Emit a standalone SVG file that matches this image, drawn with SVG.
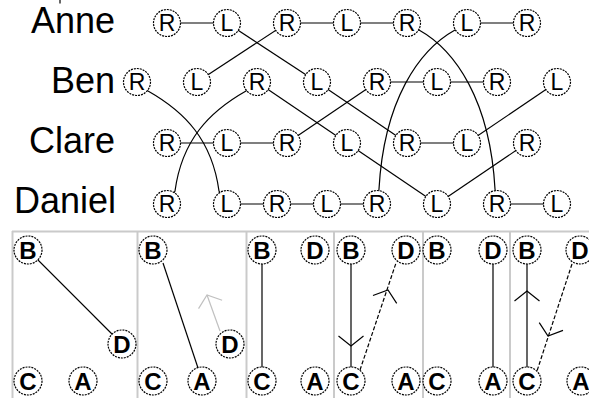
<svg xmlns="http://www.w3.org/2000/svg" xmlns:xlink="http://www.w3.org/1999/xlink" width="589" height="398" viewBox="0 0 589 398">
<style>
.n circle{fill:#fff;stroke:#000;stroke-width:1.2;stroke-dasharray:2 1}
.n text{font-family:"Liberation Sans",Arial,sans-serif;font-size:23px;text-anchor:middle;fill:#000}
.b text{font-weight:bold;font-size:24px}
.name{font-family:"Liberation Sans",Arial,sans-serif;font-size:36px;text-anchor:end;fill:#000}
.c{stroke:#000;stroke-width:1.2;fill:none}
.d{stroke-dasharray:4 2}
.g{stroke:#c0c0c0}
.frame{stroke:#cacaca;stroke-width:2;fill:none}
</style>
<defs>
<path id="chev" d="M -10,-12.5 L 0,0 L -10,12.5" fill="none"/>
</defs>
<line x1="60" y1="0" x2="60" y2="3.5" stroke="#000" stroke-width="1.2"/>
<g id="names">
<text class="name" x="115" y="33">Anne</text>
<text class="name" x="115" y="93">Ben</text>
<text class="name" x="115" y="153">Clare</text>
<text class="name" x="116" y="213">Daniel</text>
</g>
<g id="frame" class="frame">
<line x1="12" y1="231.5" x2="589" y2="231.5"/>
<line x1="12.5" y1="231" x2="12.5" y2="398"/>
<line x1="137.5" y1="231" x2="137.5" y2="398"/>
<line x1="246.5" y1="231" x2="246.5" y2="398"/>
<line x1="334" y1="231" x2="334" y2="398"/>
<line x1="423" y1="231" x2="423" y2="398"/>
<line x1="510" y1="231" x2="510" y2="398"/>
</g>
<g id="connectors">
<g id="top-connectors" class="c">
<line x1="167" y1="23" x2="227" y2="23"/>
<line x1="287" y1="23" x2="407" y2="23"/>
<line x1="467" y1="23" x2="527" y2="23"/>
<line x1="377" y1="82" x2="497" y2="82"/>
<line x1="167" y1="143" x2="287" y2="143"/>
<line x1="407" y1="143" x2="467" y2="143"/>
<line x1="227" y1="204" x2="377" y2="204"/>
<line x1="497" y1="204" x2="557" y2="204"/>
<line x1="227" y1="23" x2="317" y2="82"/>
<line x1="287" y1="23" x2="197" y2="82"/>
<line x1="257" y1="82" x2="347" y2="143"/>
<line x1="377" y1="82" x2="287" y2="143"/>
<line x1="317" y1="82" x2="407" y2="143"/>
<line x1="557" y1="82" x2="467" y2="143"/>
<line x1="347" y1="143" x2="437" y2="204"/>
<line x1="527" y1="143" x2="437" y2="204"/>
<path d="M 407,23 L 419,30 C 455,50 490,100 495,189 L 497,204"/>
<path d="M 467,23 L 455,30 C 419,50 384,100 379,189 L 377,204"/>
<path d="M 137,82 L 148,91 C 185,112 212,140 219,191 L 227,204"/>
<path d="M 257,82 L 246,91 C 209,112 182,140 175,191 L 167,204"/>
</g>
<g id="bottom-connectors" class="c">
<line x1="28" y1="250" x2="122" y2="344"/>
<line x1="163" y1="263" x2="198" y2="368"/>
<g class="g"><line x1="220" y1="331" x2="207" y2="295"/><use xlink:href="#chev" transform="translate(207,295) rotate(-109.4)"/></g>
<line x1="262" y1="250" x2="262" y2="381"/>
<line x1="351" y1="250" x2="351" y2="381"/>
<use xlink:href="#chev" transform="translate(351,346) rotate(90)"/>
<line class="d" x1="360" y1="370" x2="396" y2="263"/>
<use xlink:href="#chev" transform="translate(388,290) rotate(-71.6)"/>
<line x1="493" y1="250" x2="493" y2="381"/>
<line x1="527" y1="250" x2="527" y2="381"/>
<use xlink:href="#chev" transform="translate(527,291) rotate(-90)"/>
<line class="d" x1="572" y1="264" x2="537" y2="371"/>
<use xlink:href="#chev" transform="translate(548,336) rotate(108.2)"/>
</g>
</g>
<g id="anne">
<g id="a1" class="n"><circle cx="167" cy="23" r="13.5"/><text x="167" y="31.2">R</text></g>
<g id="a2" class="n"><circle cx="227" cy="23" r="13.5"/><text x="227" y="31.2">L</text></g>
<g id="a3" class="n"><circle cx="287" cy="23" r="13.5"/><text x="287" y="31.2">R</text></g>
<g id="a4" class="n"><circle cx="347" cy="23" r="13.5"/><text x="347" y="31.2">L</text></g>
<g id="a5" class="n"><circle cx="407" cy="23" r="13.5"/><text x="407" y="31.2">R</text></g>
<g id="a6" class="n"><circle cx="467" cy="23" r="13.5"/><text x="467" y="31.2">L</text></g>
<g id="a7" class="n"><circle cx="527" cy="23" r="13.5"/><text x="527" y="31.2">R</text></g>
</g>
<g id="ben">
<g id="b1" class="n"><circle cx="137" cy="82" r="13.5"/><text x="137" y="90.2">R</text></g>
<g id="b2" class="n"><circle cx="197" cy="82" r="13.5"/><text x="197" y="90.2">L</text></g>
<g id="b3" class="n"><circle cx="257" cy="82" r="13.5"/><text x="257" y="90.2">R</text></g>
<g id="b4" class="n"><circle cx="317" cy="82" r="13.5"/><text x="317" y="90.2">L</text></g>
<g id="b5" class="n"><circle cx="377" cy="82" r="13.5"/><text x="377" y="90.2">R</text></g>
<g id="b6" class="n"><circle cx="437" cy="82" r="13.5"/><text x="437" y="90.2">L</text></g>
<g id="b7" class="n"><circle cx="497" cy="82" r="13.5"/><text x="497" y="90.2">R</text></g>
<g id="b8" class="n"><circle cx="557" cy="82" r="13.5"/><text x="557" y="90.2">L</text></g>
</g>
<g id="clare">
<g id="c1" class="n"><circle cx="167" cy="143" r="13.5"/><text x="167" y="151.2">R</text></g>
<g id="c2" class="n"><circle cx="227" cy="143" r="13.5"/><text x="227" y="151.2">L</text></g>
<g id="c3" class="n"><circle cx="287" cy="143" r="13.5"/><text x="287" y="151.2">R</text></g>
<g id="c4" class="n"><circle cx="347" cy="143" r="13.5"/><text x="347" y="151.2">L</text></g>
<g id="c5" class="n"><circle cx="407" cy="143" r="13.5"/><text x="407" y="151.2">R</text></g>
<g id="c6" class="n"><circle cx="467" cy="143" r="13.5"/><text x="467" y="151.2">L</text></g>
<g id="c7" class="n"><circle cx="527" cy="143" r="13.5"/><text x="527" y="151.2">R</text></g>
</g>
<g id="daniel">
<g id="d1" class="n"><circle cx="167" cy="204" r="13.5"/><text x="167" y="212.2">R</text></g>
<g id="d2" class="n"><circle cx="227" cy="204" r="13.5"/><text x="227" y="212.2">L</text></g>
<g id="d3" class="n"><circle cx="277" cy="204" r="13.5"/><text x="277" y="212.2">R</text></g>
<g id="d4" class="n"><circle cx="327" cy="204" r="13.5"/><text x="327" y="212.2">L</text></g>
<g id="d5" class="n"><circle cx="377" cy="204" r="13.5"/><text x="377" y="212.2">R</text></g>
<g id="d6" class="n"><circle cx="437" cy="204" r="13.5"/><text x="437" y="212.2">L</text></g>
<g id="d7" class="n"><circle cx="497" cy="204" r="13.5"/><text x="497" y="212.2">R</text></g>
<g id="d8" class="n"><circle cx="557" cy="204" r="13.5"/><text x="557" y="212.2">L</text></g>
</g>
<g id="panels">
<g id="p1B" class="n b"><circle cx="28" cy="250" r="14"/><text x="28" y="258.6">B</text></g>
<g id="p1D" class="n b"><circle cx="122" cy="344" r="14"/><text x="122" y="352.6">D</text></g>
<g id="p1C" class="n b"><circle cx="28" cy="381" r="14"/><text x="28" y="389.6">C</text></g>
<g id="p1A" class="n b"><circle cx="83" cy="381" r="14"/><text x="83" y="389.6">A</text></g>
<g id="p2B" class="n b"><circle cx="153" cy="250" r="14"/><text x="153" y="258.6">B</text></g>
<g id="p2D" class="n b"><circle cx="230" cy="344" r="14"/><text x="230" y="352.6">D</text></g>
<g id="p2C" class="n b"><circle cx="153" cy="381" r="14"/><text x="153" y="389.6">C</text></g>
<g id="p2A" class="n b"><circle cx="202" cy="381" r="14"/><text x="202" y="389.6">A</text></g>
<g id="p3B" class="n b"><circle cx="262" cy="250" r="14"/><text x="262" y="258.6">B</text></g>
<g id="p3D" class="n b"><circle cx="315" cy="250" r="14"/><text x="315" y="258.6">D</text></g>
<g id="p3C" class="n b"><circle cx="262" cy="381" r="14"/><text x="262" y="389.6">C</text></g>
<g id="p3A" class="n b"><circle cx="315" cy="381" r="14"/><text x="315" y="389.6">A</text></g>
<g id="p4B" class="n b"><circle cx="351" cy="250" r="14"/><text x="351" y="258.6">B</text></g>
<g id="p4D" class="n b"><circle cx="406" cy="250" r="14"/><text x="406" y="258.6">D</text></g>
<g id="p4C" class="n b"><circle cx="351" cy="381" r="14"/><text x="351" y="389.6">C</text></g>
<g id="p4A" class="n b"><circle cx="406" cy="381" r="14"/><text x="406" y="389.6">A</text></g>
<g id="p5B" class="n b"><circle cx="437" cy="250" r="14"/><text x="437" y="258.6">B</text></g>
<g id="p5D" class="n b"><circle cx="493" cy="250" r="14"/><text x="493" y="258.6">D</text></g>
<g id="p5C" class="n b"><circle cx="437" cy="381" r="14"/><text x="437" y="389.6">C</text></g>
<g id="p5A" class="n b"><circle cx="493" cy="381" r="14"/><text x="493" y="389.6">A</text></g>
<g id="p6B" class="n b"><circle cx="527" cy="250" r="14"/><text x="527" y="258.6">B</text></g>
<g id="p6D" class="n b"><circle cx="580" cy="250" r="14"/><text x="580" y="258.6">D</text></g>
<g id="p6C" class="n b"><circle cx="527" cy="381" r="14"/><text x="527" y="389.6">C</text></g>
<g id="p6A" class="n b"><circle cx="581" cy="381" r="14"/><text x="581" y="389.6">A</text></g>
</g>
</svg>
